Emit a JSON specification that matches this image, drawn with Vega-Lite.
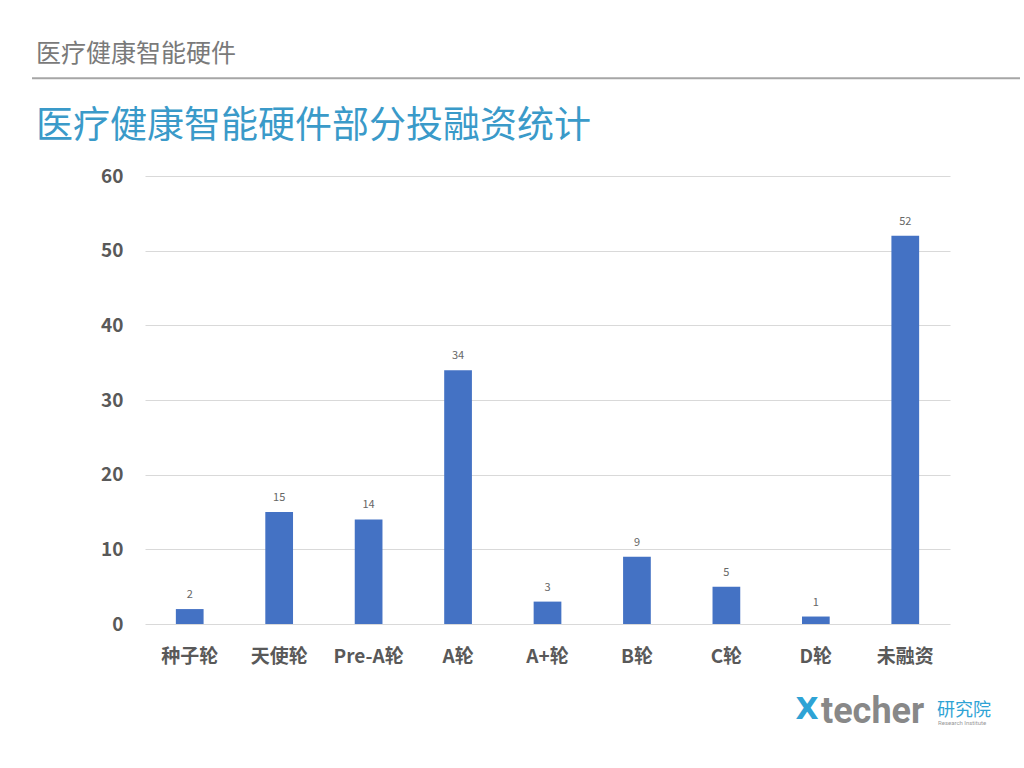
{
  "$schema": "https://vega.github.io/schema/vega-lite/v6.json",
  "width": 805,
  "height": 448,
  "autosize": "none",
  "padding": {"left": 145, "top": 176, "right": 74, "bottom": 144},
  "background": "white",
  "config": {"font": "Noto Sans CJK SC", "view": {"stroke": null}},
  "title": {
    "text": "医疗健康智能硬件",
    "subtitle": "医疗健康智能硬件部分投融资统计",
    "anchor": "start",
    "frame": "group",
    "dx": -109,
    "font": "Noto Sans CJK SC",
    "fontSize": 25,
    "fontWeight": "normal",
    "color": "#7a7a7a",
    "subtitleFont": "Noto Sans CJK SC",
    "subtitleFontSize": 37,
    "subtitleFontWeight": "normal",
    "subtitleColor": "#3a9ac9",
    "subtitlePadding": 42,
    "offset": -68
  },
  "data": {
    "values": [
      {"round": "种子轮", "count": 2},
      {"round": "天使轮", "count": 15},
      {"round": "Pre-A轮", "count": 14},
      {"round": "A轮", "count": 34},
      {"round": "A+轮", "count": 3},
      {"round": "B轮", "count": 9},
      {"round": "C轮", "count": 5},
      {"round": "D轮", "count": 1},
      {"round": "未融资", "count": 52}
    ]
  },
  "layer": [
    {
      "encoding": {
        "x": {
          "field": "round",
          "type": "nominal",
          "sort": null,
          "scale": {"paddingInner": 0.69, "paddingOuter": 0.345},
          "axis": {
            "title": null,
            "domain": false,
            "ticks": false,
            "labelAngle": 0,
            "labelFontSize": 19,
            "labelFontWeight": "bold",
            "labelColor": "#595959",
            "labelPadding": 23
          }
        },
        "y": {
          "field": "count",
          "type": "quantitative",
          "scale": {"domain": [0, 60]},
          "axis": {
            "title": null,
            "values": [0, 10, 20, 30, 40, 50, 60],
            "grid": true,
            "gridColor": "#d9d9d9",
            "gridWidth": 1,
            "domain": false,
            "ticks": false,
            "labelFontSize": 19,
            "labelFontWeight": "bold",
            "labelColor": "#595959",
            "labelPadding": 22
          }
        }
      },
      "layer": [
        {"mark": {"type": "bar", "color": "#4472c4"}},
        {
          "mark": {"type": "text", "dy": -14, "fontSize": 11, "color": "#666666"},
          "encoding": {"text": {"field": "count", "type": "quantitative"}}
        }
      ]
    },
    {
      "data": {"values": [{}]},
      "layer": [
        {
          "mark": {"type": "rule", "color": "#a6a6a6", "strokeWidth": 2},
          "encoding": {
            "x": {"datum": 32, "type": "quantitative", "scale": {"domain": [0, 1024], "range": [-145, 879], "nice": false, "zero": false}, "axis": null},
            "x2": {"datum": 1020},
            "y": {"datum": 73.1, "type": "quantitative"}
          }
        },
        {
          "mark": {"type": "text", "text": "X", "font": "DejaVu Sans", "fontWeight": "bold", "fontSize": 30, "color": "#2ea3d5", "align": "center", "baseline": "middle"},
          "encoding": {
            "x": {"datum": 807, "type": "quantitative"},
            "y": {"datum": -11.5, "type": "quantitative"}
          }
        },
        {
          "mark": {"type": "text", "text": "techer", "font": "Roboto", "fontWeight": "bold", "fontSize": 36, "color": "#888888", "align": "left", "baseline": "middle"},
          "encoding": {
            "x": {"datum": 821, "type": "quantitative"},
            "y": {"datum": -11.8, "type": "quantitative"}
          }
        },
        {
          "mark": {"type": "text", "text": "研究院", "font": "Noto Sans CJK SC", "fontSize": 18, "color": "#2ea3d5", "align": "left", "baseline": "middle"},
          "encoding": {
            "x": {"datum": 937, "type": "quantitative"},
            "y": {"datum": -11.6, "type": "quantitative"}
          }
        },
        {
          "mark": {"type": "text", "text": "Research Institute", "font": "Roboto", "fontSize": 6, "color": "#999999", "align": "left", "baseline": "middle"},
          "encoding": {
            "x": {"datum": 938, "type": "quantitative"},
            "y": {"datum": -13.3, "type": "quantitative"}
          }
        }
      ]
    }
  ],
  "resolve": {"scale": {"x": "independent"}}
}
